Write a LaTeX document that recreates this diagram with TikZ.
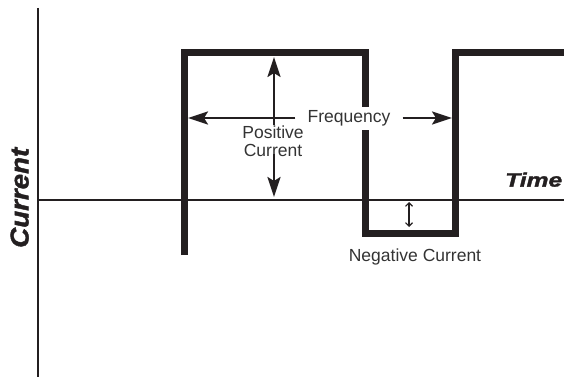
\documentclass[tikz,border=0pt]{standalone}
\usepackage{fontspec}
\setmainfont{Liberation Sans}
\newfontfamily\blackfont{Liberation Sans}[BoldFeatures={FakeBold=1.5},BoldItalicFeatures={FakeBold=1.5}]
\usetikzlibrary{arrows.meta}
\definecolor{ink}{HTML}{231F20}
\definecolor{txt}{HTML}{333333}
\begin{document}
\begin{tikzpicture}[x=1pt,y=-1pt,
  axisline/.style={draw=ink,line width=1.6pt},
  wave/.style={draw=ink,line width=7pt,line join=miter,line cap=butt},
  bigarrow/.style={draw=ink,line width=2.4pt,-{Stealth[length=20pt,width=13pt,inset=4pt]}},
  smallarrow/.style={draw=ink,line width=1.1pt,{Straight Barb[length=3.5pt,width=7pt]}-{Straight Barb[length=3.5pt,width=7pt]}},
  lbl/.style={font=\fontsize{17.5}{18}\selectfont,text=txt},
  heavy/.style={inner sep=0pt,text=ink}]
\useasboundingbox (0,0) rectangle (564,379);
% axes
\coordinate (ytop) at (38,8);
\coordinate (ybot) at (38,377);
\coordinate (xl) at (38,200);
\coordinate (xr) at (564,200);
\draw[axisline] (ytop) -- (ybot);
\draw[axisline] (xl) -- (xr);
% square wave
\coordinate (w0) at (184,255);
\coordinate (w1) at (184,53);
\coordinate (w2) at (365,53);
\coordinate (w3) at (365,233.5);
\coordinate (w4) at (455,233.5);
\coordinate (w5) at (455,53);
\coordinate (w6) at (564,53);
\draw[wave] (w0) -- (w1) -- (w2) -- (w3) -- (w4) -- (w5) -- (w6);
% frequency
\node[lbl,fill=white,inner xsep=12pt,inner ysep=3.4pt] (freq) at (349,118.5) {Frequency};
\coordinate (fl) at (188,118);
\coordinate (fr) at (452,118);
\draw[bigarrow] (freq.west |- fl) -- (fl);
\draw[bigarrow] (freq.east |- fr) -- (fr);
% positive current
\node[lbl,align=center,inner sep=1pt] (pos) at (273,141) {Positive\\Current};
\coordinate (ptop) at (274,57);
\coordinate (pbot) at (274,197);
\draw[bigarrow] ([yshift=-1pt]pos.north -| ptop) -- (ptop);
\draw[bigarrow] ([yshift=4pt]pos.south -| pbot) -- (pbot);
% negative current
\coordinate (n1) at (409,202);
\coordinate (n2) at (409,227);
\draw[smallarrow] (n1) -- (n2);
\node[lbl,anchor=base,inner sep=0pt] (neg) at (415,261) {Negative Current};
% axis titles
\node[heavy,anchor=south west] (time) at (505,187) {\resizebox{57pt}{14pt}{\blackfont\bfseries\itshape Time}};
\node[heavy,anchor=south west,rotate=90] (cur) at (29,248) {\resizebox{100pt}{18pt}{\blackfont\bfseries\itshape Current}};
\end{tikzpicture}
\end{document}
